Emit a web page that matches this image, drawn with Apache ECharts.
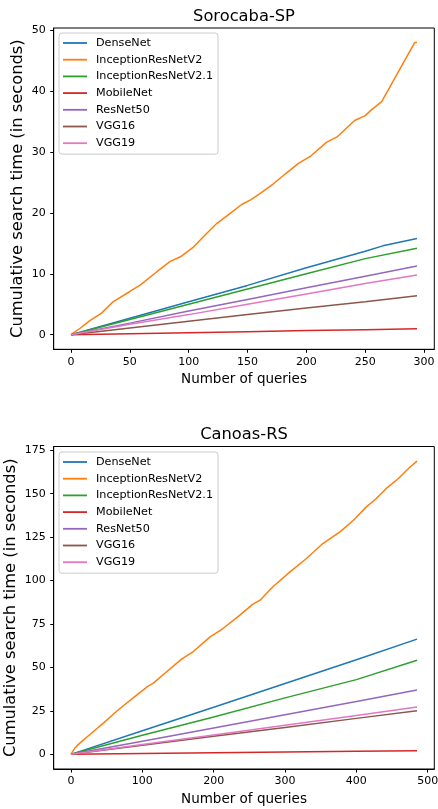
<!DOCTYPE html>
<html>
<head>
<meta charset="utf-8">
<script src="https://cdn.jsdelivr.net/npm/echarts@6/dist/echarts.min.js"></script>
<style>
  html, body { margin: 0; padding: 0; background: #fff; }
  #chart { width: 438px; height: 809px; }
</style>
</head>
<body>
<div id="chart"></div>
<script>
// Model names, shared by both panels
const models = ['DenseNet', 'InceptionResNetV2', 'InceptionResNetV2.1', 'MobileNet', 'ResNet50', 'VGG16', 'VGG19'];
const colors = ['#1f77b4', '#ff7f0e', '#2ca02c', '#d62728', '#9467bd', '#8c564b', '#e377c2'];

// Sorocaba-SP: cumulative search time [queries, seconds]
const soroDenseNet = [[0,0],[50,2.7],[100,5.4],[150,8.1],[200,11.0],[250,13.7],[265,14.6],[294,15.8]];
const soroInceptionResNetV2 = [[0,0],[8,1.1],[16,2.3],[26,3.55],[36,5.45],[50,7.1],[59,8.2],[73,10.35],[84,12.0],[93,12.8],[104,14.4],[115,16.6],[124,18.3],[135,19.9],[145,21.4],[153,22.2],[162,23.4],[172,24.8],[182,26.4],[193,28.1],[204,29.4],[217,31.6],[226,32.5],[241,35.2],[250,36.0],[255,36.9],[264,38.3],[292,48.0],[294,48.0]];
const soroInceptionResNetV21 = [[0,0],[50,2.5],[100,5.0],[150,7.5],[200,10.0],[250,12.5],[294,14.2]];
const soroMobileNet = [[0,0],[50,0.17],[100,0.33],[150,0.5],[200,0.67],[250,0.83],[294,0.97]];
const soroResNet50 = [[0,0],[50,1.9],[100,3.9],[150,5.8],[200,7.7],[250,9.6],[294,11.3]];
const soroVGG16 = [[0,0],[50,1.1],[100,2.2],[150,3.3],[200,4.4],[250,5.4],[294,6.4]];
const soroVGG19 = [[0,0],[50,1.7],[100,3.3],[150,5.0],[200,6.7],[250,8.4],[294,9.8]];

// Canoas-RS: cumulative search time [queries, seconds]
const canoDenseNet = [[0,0],[100,13.6],[200,27.1],[300,40.8],[400,54.4],[485,66.3]];
const canoInceptionResNetV2 = [[0,0],[5,3.5],[12,6.3],[31,13.0],[45,17.8],[66,25.5],[92,34.1],[108,39.3],[115,40.8],[134,47.5],[155,54.8],[171,59.0],[195,67.6],[213,72.4],[235,79.5],[255,86.4],[265,88.7],[283,96.4],[307,105.0],[330,112.7],[353,121.3],[377,128.0],[396,134.7],[414,142.4],[428,147.2],[442,153.0],[459,158.7],[473,164.5],[485,168.7]];
const canoInceptionResNetV21 = [[0,0],[100,11.0],[200,21.5],[300,32.5],[400,43.0],[485,54.1]];
const canoMobileNet = [[0,0],[100,0.43],[200,0.86],[300,1.3],[400,1.73],[485,2.1]];
const canoResNet50 = [[0,0],[100,7.6],[200,15.2],[300,22.8],[400,30.4],[485,37.0]];
const canoVGG16 = [[0,0],[100,5.2],[200,10.4],[300,15.5],[400,20.7],[485,25.1]];
const canoVGG19 = [[0,0],[100,5.6],[200,11.2],[300,16.8],[400,22.4],[485,27.2]];

// Tick labels
const soroXTicks = [0, 50, 100, 150, 200, 250, 300];
const soroYTicks = [0, 10, 20, 30, 40, 50];
const canoXTicks = [0, 100, 200, 300, 400, 500];
const canoYTicks = [0, 25, 50, 75, 100, 125, 150, 175];

const soroSeries = [soroDenseNet, soroInceptionResNetV2, soroInceptionResNetV21, soroMobileNet, soroResNet50, soroVGG16, soroVGG19];
const canoSeries = [canoDenseNet, canoInceptionResNetV2, canoInceptionResNetV21, canoMobileNet, canoResNet50, canoVGG16, canoVGG19];

const FONT = 'DejaVu Sans';

function xAxisCfg(gridIndex, min, max, ticks) {
  return {
    type: 'value', gridIndex, min, max,
    name: 'Number of queries', nameLocation: 'middle', nameGap: 23, nameMoveOverlap: false,
    nameTextStyle: { fontFamily: FONT, fontSize: 13.5, color: '#000' },
    axisLine: { show: true, onZero: false, lineStyle: { color: '#000', width: 1 } },
    axisTick: { show: true, inside: false, length: 3.5, lineStyle: { color: '#000' }, customValues: ticks },
    axisLabel: { fontFamily: FONT, fontSize: 11, color: '#000', margin: 7, customValues: ticks },
    splitLine: { show: false }
  };
}

function yAxisCfg(gridIndex, min, max, ticks, gap) {
  return {
    type: 'value', gridIndex, min, max,
    name: 'Cumulative search time (in seconds)', nameLocation: 'middle', nameGap: gap, nameMoveOverlap: false,
    nameTextStyle: { fontFamily: FONT, fontSize: 16.3, color: '#000' },
    axisLine: { show: true, onZero: false, lineStyle: { color: '#000', width: 1 } },
    axisTick: { show: true, inside: false, length: 3.5, lineStyle: { color: '#000' }, customValues: ticks },
    axisLabel: { fontFamily: FONT, fontSize: 11, color: '#000', margin: 8, customValues: ticks },
    splitLine: { show: false }
  };
}

function legendCfg(top) {
  return {
    data: models,
    orient: 'vertical',
    left: 59, top: top,
    icon: 'rect',
    itemWidth: 24, itemHeight: 1.8,
    itemGap: 2.7,
    padding: [3, 5, 4, 4],
    backgroundColor: 'rgba(255,255,255,0.8)',
    borderColor: '#cccccc', borderWidth: 1, borderRadius: 3,
    selectedMode: false,
    textStyle: { fontFamily: FONT, fontSize: 11.2, color: '#000', lineHeight: 14, padding: [0, 0, 0, 4] }
  };
}

function makeSeries(list, axisIndex) {
  return list.map((data, i) => ({
    name: models[i], type: 'line', data,
    xAxisIndex: axisIndex, yAxisIndex: axisIndex,
    showSymbol: false, symbol: 'none',
    lineStyle: { color: colors[i], width: 1.5 },
    itemStyle: { color: colors[i] },
    emphasis: { disabled: true }
  }));
}

const chart = echarts.init(document.getElementById('chart'), null, { renderer: 'canvas' });
chart.setOption({
  animation: false,
  backgroundColor: '#fff',
  title: [
    { text: 'Sorocaba-SP', left: 244, top: 8.5, textAlign: 'center', padding: 0,
      textStyle: { fontFamily: FONT, fontSize: 16.3, fontWeight: 'normal', color: '#000' } },
    { text: 'Canoas-RS', left: 244, top: 427, textAlign: 'center', padding: 0,
      textStyle: { fontFamily: FONT, fontSize: 16.3, fontWeight: 'normal', color: '#000' } }
  ],
  legend: [legendCfg(33), legendCfg(452)],
  grid: [
    { left: 53.7, right: 3.7, top: 28, height: 321.3, show: true, borderColor: '#000', borderWidth: 1,
      outerBoundsMode: 'none', containLabel: false },
    { left: 53.7, right: 3.7, top: 446.5, height: 322.5, show: true, borderColor: '#000', borderWidth: 1,
      outerBoundsMode: 'none', containLabel: false }
  ],
  xAxis: [
    xAxisCfg(0, -14.7, 308.7, soroXTicks),
    xAxisCfg(1, -24.25, 509.25, canoXTicks)
  ],
  yAxis: [
    yAxisCfg(0, -2.4, 50.4, soroYTicks, 28),
    yAxisCfg(1, -8.43, 177.13, canoYTicks, 35)
  ],
  series: makeSeries(soroSeries, 0).concat(makeSeries(canoSeries, 1))
});
</script>
</body>
</html>
